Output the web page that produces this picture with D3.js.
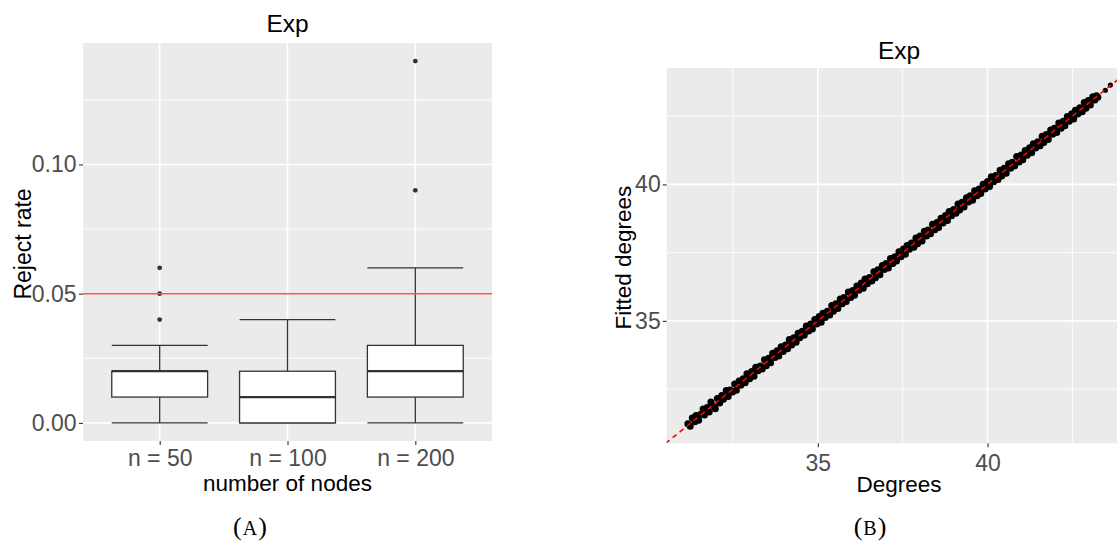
<!DOCTYPE html>
<html><head><meta charset="utf-8">
<script src="https://cdn.jsdelivr.net/npm/d3@7"></script>
<style>
body{margin:0;background:#fff;}
svg text{font-family:"Liberation Sans",Arial,sans-serif;}
svg text.cap{font-family:"Liberation Serif","Times New Roman",serif;}
</style>
</head><body>
<svg id="c" width="1117" height="542"></svg>
<script>
// ---------- Panel A data ----------
const categories = ["n = 50", "n = 100", "n = 200"];
const lowerWhisker = [0.00, 0.00, 0.00];
const q1 = [0.01, 0.00, 0.01];
const medians = [0.02, 0.01, 0.02];
const q3 = [0.02, 0.02, 0.03];
const upperWhisker = [0.03, 0.04, 0.06];
const outliers = [[0.04, 0.05, 0.06], [], [0.09, 0.14]];
const refRate = 0.05;
const rateTicks = [0.00, 0.05, 0.10];
const rateMinor = [0.025, 0.075, 0.125];

// ---------- Panel B data ----------
const degrees = [31.17,31.24,31.30,31.38,31.41,31.49,31.55,31.62,31.66,31.74,31.80,31.85,31.93,31.98,32.04,32.11,32.17,32.22,32.30,32.36,
32.41,32.49,32.55,32.60,32.68,32.73,32.80,32.86,32.91,32.99,33.05,33.12,33.17,33.24,33.30,33.36,33.43,33.48,33.55,33.61,
33.67,33.74,33.80,33.85,33.92,33.98,34.05,34.11,34.16,34.23,34.29,34.36,34.42,34.47,34.54,34.60,34.66,34.73,34.79,34.84,
34.91,34.97,35.04,35.10,35.15,35.22,35.28,35.35,35.41,35.46,35.53,35.59,35.66,35.72,35.77,35.84,35.90,35.97,36.03,36.08,
36.15,36.21,36.28,36.34,36.39,36.46,36.52,36.59,36.65,36.70,36.77,36.83,36.90,36.96,37.01,37.08,37.14,37.21,37.27,37.32,
37.39,37.45,37.52,37.58,37.63,37.70,37.76,37.83,37.89,37.94,38.01,38.07,38.14,38.20,38.25,38.32,38.38,38.45,38.51,38.56,
38.63,38.69,38.76,38.82,38.87,38.94,39.00,39.07,39.13,39.18,39.25,39.31,39.38,39.44,39.49,39.56,39.62,39.69,39.75,39.80,
39.87,39.93,40.00,40.06,40.11,40.18,40.24,40.31,40.37,40.42,40.49,40.55,40.62,40.68,40.73,40.80,40.86,40.93,40.99,41.04,
41.11,41.17,41.24,41.30,41.35,41.42,41.48,41.55,41.61,41.66,41.73,41.79,41.86,41.92,41.97,42.04,42.10,42.17,42.23,42.28,
42.35,42.41,42.48,42.54,42.59,42.66,42.72,42.79,42.85,42.90,42.97,43.03,43.10,43.16,43.21,43.25,43.47,43.62];
const fitted = [31.23,31.14,31.44,31.30,31.53,31.36,31.58,31.77,31.55,31.83,31.66,32.03,31.88,31.78,32.16,31.99,32.27,32.13,32.45,32.23,
32.47,32.39,32.69,32.46,32.80,32.64,32.88,32.73,33.06,32.88,33.15,32.97,33.30,33.17,33.35,33.24,33.58,33.36,33.63,33.47,
33.81,33.66,33.91,33.71,34.05,33.88,34.12,33.98,34.32,34.12,34.38,34.22,34.55,34.38,34.62,34.47,34.81,34.63,34.89,34.70,
35.05,34.89,35.16,34.95,35.28,35.12,35.35,35.22,35.56,35.35,35.63,35.45,35.80,35.63,35.86,35.71,36.06,35.86,36.11,35.94,
36.28,36.12,36.39,36.20,36.53,36.36,36.59,36.46,36.80,36.58,36.87,36.69,37.03,36.88,37.10,36.94,37.29,37.10,37.35,37.19,
37.53,37.35,37.63,37.44,37.76,37.62,37.85,37.70,38.04,37.83,38.11,37.93,38.28,38.11,38.33,38.19,38.54,38.34,38.60,38.42,
38.76,38.59,38.86,38.68,39.01,38.85,39.08,38.94,39.28,39.06,39.35,39.17,39.51,39.36,39.58,39.42,39.77,39.58,39.83,39.67,
40.01,39.83,40.11,39.92,40.28,40.10,40.33,40.18,40.52,40.31,40.59,40.41,40.76,40.59,40.81,40.67,41.02,40.82,41.08,40.90,
41.24,41.07,41.34,41.16,41.49,41.33,41.56,41.42,41.76,41.54,41.83,41.65,41.99,41.84,42.06,41.90,42.25,42.06,42.31,42.15,
42.49,42.31,42.59,42.40,42.72,42.58,42.81,42.66,43.00,42.79,43.07,42.91,43.21,43.09,43.25,43.19,43.45,43.64];
const degreeTicks = [35, 40];
const degreeMinor = [32.5, 37.5, 42.5];

// ---------- helpers ----------
const svg = d3.select("#c");
svg.append("rect").attr("width",1117).attr("height",542).attr("fill","#fff");
const BG = "#ebebeb", TICKTXT = "#4d4d4d", TICKLINE = "#333333";

function styleAxis(g){
  g.select(".domain").remove();
  g.selectAll(".tick line").attr("stroke",TICKLINE).attr("stroke-width",1.1);
  g.selectAll(".tick text").attr("fill",TICKTXT).attr("font-size","23px");
}
function expand(ext){ const r = ext[1]-ext[0]; return [ext[0]-0.05*r, ext[1]+0.05*r]; }
function caption(x, letter){
  const t = svg.append("text").attr("class","cap").attr("x",x).attr("y",535).attr("text-anchor","middle")
    .attr("font-size","26px").attr("fill","#000");
  t.append("tspan").text("(");
  t.append("tspan").attr("font-size","20px").attr("dx",1).text(letter);
  t.append("tspan").attr("dx",1).text(")");
}

// ================= Panel A =================
{
  const L=83, R=492, T=43, B=441;
  const allVals = lowerWhisker.concat(upperWhisker, outliers.flat());
  const y = d3.scaleLinear().domain(expand(d3.extent(allVals))).range([B,T]);
  const x = d3.scalePoint().domain(categories).range([L,R]).padding(0.6);
  const bw = x.step()*0.75;
  const g = svg.append("g");
  g.append("rect").attr("x",L).attr("y",T).attr("width",R-L).attr("height",B-T).attr("fill",BG);
  g.selectAll(".mn").data(rateMinor).join("line")
    .attr("x1",L).attr("x2",R).attr("y1",d=>y(d)).attr("y2",d=>y(d))
    .attr("stroke","#fff").attr("stroke-width",0.9);
  g.selectAll(".mj").data(rateTicks).join("line")
    .attr("x1",L).attr("x2",R).attr("y1",d=>y(d)).attr("y2",d=>y(d))
    .attr("stroke","#fff").attr("stroke-width",1.6);
  g.selectAll(".vx").data(categories).join("line")
    .attr("x1",d=>x(d)).attr("x2",d=>x(d)).attr("y1",T).attr("y2",B)
    .attr("stroke","#fff").attr("stroke-width",1.6);

  categories.forEach((c,i)=>{
    const cx = x(c);
    const bg = g.append("g");
    [lowerWhisker[i], upperWhisker[i]].forEach(v=>{
      bg.append("line").attr("x1",cx-bw/2).attr("x2",cx+bw/2).attr("y1",y(v)).attr("y2",y(v))
        .attr("stroke",TICKLINE).attr("stroke-width",1.3);
    });
    bg.append("line").attr("x1",cx).attr("x2",cx).attr("y1",y(upperWhisker[i])).attr("y2",y(q3[i]))
      .attr("stroke",TICKLINE).attr("stroke-width",1.3);
    bg.append("line").attr("x1",cx).attr("x2",cx).attr("y1",y(q1[i])).attr("y2",y(lowerWhisker[i]))
      .attr("stroke",TICKLINE).attr("stroke-width",1.3);
    bg.append("rect").attr("x",cx-bw/2).attr("y",y(q3[i])).attr("width",bw)
      .attr("height",Math.max(0.01,y(q1[i])-y(q3[i])))
      .attr("fill","#fff").attr("stroke",TICKLINE).attr("stroke-width",1.3);
    bg.append("line").attr("x1",cx-bw/2).attr("x2",cx+bw/2).attr("y1",y(medians[i])).attr("y2",y(medians[i]))
      .attr("stroke",TICKLINE).attr("stroke-width",2.3);
    bg.selectAll("circle").data(outliers[i]).join("circle")
      .attr("cx",cx).attr("cy",d=>y(d)).attr("r",2.4).attr("fill",TICKLINE);
  });
  g.append("line").attr("x1",L).attr("x2",R).attr("y1",y(refRate)).attr("y2",y(refRate))
    .attr("stroke","#ff5050").attr("stroke-width",1.4);

  g.append("g").attr("transform",`translate(${L},0)`)
    .call(d3.axisLeft(y).tickValues(rateTicks).tickFormat(d3.format(".2f")).tickSize(4).tickPadding(2.5))
    .call(styleAxis);
  g.append("g").attr("transform",`translate(0,${B})`)
    .call(d3.axisBottom(x).tickSize(4).tickPadding(5)).call(styleAxis);

  svg.append("text").attr("x",(L+R)/2).attr("y",32).attr("text-anchor","middle")
    .attr("font-size","24.5px").attr("fill","#000").text("Exp");
  svg.append("text").attr("x",(L+R)/2).attr("y",491).attr("text-anchor","middle")
    .attr("font-size","22.5px").attr("fill","#000").text("number of nodes");
  svg.append("text").attr("transform",`translate(31,${(T+B)/2+2}) rotate(-90)`).attr("text-anchor","middle")
    .attr("font-size","23px").attr("fill","#000").text("Reject rate");
  caption(250, "A");
}

// ================= Panel B =================
{
  const L=666.7, T=68, B=443.3;
  const xd = expand(d3.extent(degrees)), yd = expand(d3.extent(fitted));
  const pxPerX = 33.94;
  const R = L + (xd[1]-xd[0])*pxPerX;
  const x = d3.scaleLinear().domain(xd).range([L,R]);
  const y = d3.scaleLinear().domain(yd).range([B,T]);
  const g = svg.append("g");
  svg.append("clipPath").attr("id","clipB").append("rect")
    .attr("x",L).attr("y",T).attr("width",R-L).attr("height",B-T);
  g.append("rect").attr("x",L).attr("y",T).attr("width",R-L).attr("height",B-T).attr("fill",BG);
  g.selectAll(".mnx").data(degreeMinor).join("line")
    .attr("x1",d=>x(d)).attr("x2",d=>x(d)).attr("y1",T).attr("y2",B).attr("stroke","#fff").attr("stroke-width",0.9);
  g.selectAll(".mny").data(degreeMinor).join("line")
    .attr("y1",d=>y(d)).attr("y2",d=>y(d)).attr("x1",L).attr("x2",R).attr("stroke","#fff").attr("stroke-width",0.9);
  g.selectAll(".mjx").data(degreeTicks).join("line")
    .attr("x1",d=>x(d)).attr("x2",d=>x(d)).attr("y1",T).attr("y2",B).attr("stroke","#fff").attr("stroke-width",1.6);
  g.selectAll(".mjy").data(degreeTicks).join("line")
    .attr("y1",d=>y(d)).attr("y2",d=>y(d)).attr("x1",L).attr("x2",R).attr("stroke","#fff").attr("stroke-width",1.6);

  const pts = degrees.map((d,i)=>({d, f:fitted[i]}));
  g.append("g").attr("clip-path","url(#clipB)").selectAll("circle").data(pts).join("circle")
    .attr("cx",p=>x(p.d)).attr("cy",p=>y(p.f)).attr("r",(p,i)=> i>=pts.length-2 ? 2.6 : 3.5).attr("fill","#000");
  const lo = Math.min(xd[0],yd[0]), hi = Math.max(xd[1],yd[1]);
  g.append("line").attr("clip-path","url(#clipB)")
    .attr("x1",x(lo)).attr("y1",y(lo)).attr("x2",x(hi)).attr("y2",y(hi))
    .attr("stroke","#ff0000").attr("stroke-width",1.6).attr("stroke-dasharray","5,4");

  g.append("g").attr("transform",`translate(${L},0)`)
    .call(d3.axisLeft(y).tickValues(degreeTicks).tickSize(4).tickPadding(2)).call(styleAxis);
  g.append("g").attr("transform",`translate(0,${B})`)
    .call(d3.axisBottom(x).tickValues(degreeTicks).tickSize(4).tickPadding(7)).call(styleAxis);

  const cx = (L+R)/2;
  svg.append("text").attr("x",cx).attr("y",59).attr("text-anchor","middle")
    .attr("font-size","24.5px").attr("fill","#000").text("Exp");
  svg.append("text").attr("x",cx).attr("y",492).attr("text-anchor","middle")
    .attr("font-size","22.5px").attr("fill","#000").text("Degrees");
  svg.append("text").attr("transform",`translate(631,${(T+B)/2+2}) rotate(-90)`).attr("text-anchor","middle")
    .attr("font-size","22.5px").attr("fill","#000").text("Fitted degrees");
  caption(870, "B");
}
</script>
</body></html>
